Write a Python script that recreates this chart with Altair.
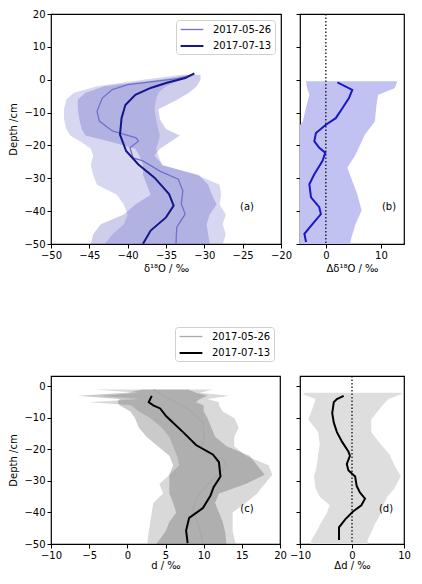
import altair as alt
import pandas as pd

FONT = "DejaVu Sans"
series = ["2017-05-26", "2017-07-13"]
panel_labels = ["(a)", "(b)", "(c)", "(d)"]

# ---------------- panel (a): d18O profiles ----------------
a_line526_depth = [1.5, 0.3, -0.8, -1.5, -3.0, -5.6, -9.6, -12.6, -15.6, -17.7, -18.7, -20.7,
                   -23.8, -24.7, -27.8, -30.3, -33.8, -37.8, -40.9, -44.9, -49.9]
a_line526_val = [-31.6, -33.5, -37.5, -40.0, -42.0, -43.3, -44.0, -43.7, -42.0, -38.9, -38.6, -39.7,
                 -39.3, -38.0, -35.8, -33.4, -32.8, -33.0, -32.5, -33.6, -33.7]
a_line713_depth = [1.9, 0.5, -1.0, -2.5, -4.6, -7.7, -11.7, -16.7, -21.7, -25.8, -29.8, -34.8,
                   -38.3, -41.9, -45.9, -49.9]
a_line713_val = [-31.3, -32.5, -35.0, -37.0, -39.0, -40.3, -40.8, -41.0, -40.2, -38.6, -36.5, -34.6,
                 -34.0, -35.0, -37.0, -38.0]

a_band_depth = [1.5, 0, -2, -4, -6, -9, -12, -15, -17, -19, -21, -23, -26, -29, -32, -35, -38,
                -41, -44, -47, -50]
a_band526_lo = [-33, -38, -44, -47, -48, -48.3, -48.3, -48, -47.5, -46, -44.8, -44.5, -44.8, -44.5,
                -44, -41.4, -40.5, -40, -40.5, -42, -43]
a_band526_hi = [-31, -33, -35, -36, -36.3, -36.5, -36.3, -36, -35.8, -36, -36.3, -36, -35.5, -31,
                -28, -27.8, -28, -27.2, -27.6, -27.2, -27.6]
a_band713_lo = [-31.5, -36, -43, -45.5, -46.5, -46.5, -46.3, -46, -45.5, -42, -39, -38.5, -38, -38,
                -37.5, -37, -39, -40.5, -43.5, -44.5, -44.8]
a_band713_hi = [-30.5, -30.5, -31, -32, -33.5, -36, -35.8, -35, -33.2, -34.5, -35.8, -36.5, -35.4,
                -30.7, -29.5, -29, -28.4, -29.3, -29.7, -29.5, -29.3]

# ---------------- panel (b): delta d18O ----------------
b_line_depth = [-0.8, -3.1, -5.6, -8.7, -11.7, -13.7, -16.2, -18.7, -20.7, -22.2, -24.7, -28.8,
                -31.8, -35.8, -38.8, -40.9, -43.9, -46.9, -49.4]
b_line_val = [2.1, 4.8, 4.2, 3.0, 1.8, 0.0, -1.8, -2.1, -1.2, -0.1, -0.6, -2.1, -3.0, -2.7, -1.2,
              -0.9, -2.4, -3.9, -3.6]
b_band_depth = [-0.5, -2.6, -4.6, -7.7, -12.7, -16.7, -22.8, -26.8, -30.8, -34.8, -39.8, -43.9,
                -48.9, -50]
b_band_lo = [-3.6, -3.4, -3.0, -3.5, -4.2, -6, -6, -6, -6, -6, -6, -6, -6, -6]
b_band_hi = [13, 12.5, 9.5, 9.2, 8.9, 7.1, 5.4, 3.9, 4.8, 5.7, 6.5, 5.4, 4.5, 4.5]

# ---------------- panel (c): d-excess profiles ----------------
c_line526_depth = [-1, -4, -7.5, -11.5, -15.6, -19.6, -21.5, -23, -25, -27.6, -31.6, -35.6, -39.7,
                   -44.7, -49.7]
c_line526_val = [3.4, 5.5, 8.2, 9.9, 10.1, 9.7, 10.5, 12.5, 13.0, 12.0, 10.3, 9.0, 8.6, 9.4, 9.9]
c_line713_depth = [-3, -4, -5, -6, -7, -9.5, -14.5, -18.6, -21.6, -24, -28.6, -32, -34.6, -38.6,
                   -41.7, -45.7, -49.7]
c_line713_val = [3.2, 3.0, 2.8, 3.4, 4.3, 5.1, 7.3, 9.0, 11.2, 12.0, 12.2, 11.3, 10.9, 9.9, 8.1,
                 7.7, 7.9]
c_band_depth = [-1, -2, -3, -4, -5, -6, -8, -10, -13, -16, -19, -22, -25, -28, -31, -34, -37, -40,
                -43, -46, -50]
c_band526_lo = [-4.4, 1.5, -3.5, 1.5, -5, 0.5, 1.5, 3, 4.5, 5.5, 6, 6.5, 6.8, 5.5, 4.2, 4.7, 3.4,
                3.2, 3, 2.8, 2.6]
c_band526_hi = [11.2, 9.5, 13.4, 10.5, 12, 12, 12.5, 14, 14.6, 14, 14, 15.5, 18.5, 19, 18, 17,
                15.5, 13.8, 13.8, 13.8, 14.2]
c_band713_lo = [2, 0, -6.5, -1, -1.3, -1, 0.4, 1, 1.5, 2.5, 4, 5.5, 6, 5.5, 5.5, 5.5, 6, 6.4, 5.5,
                5, 3.8]
c_band713_hi = [8, 9, 10.5, 9.5, 9, 10, 10, 10.5, 11, 11.5, 13, 16, 17, 18, 15.5, 12, 11.5, 12,
                12.5, 12.8, 13]

# ---------------- panel (d): delta d-excess ----------------
d_line_depth = [-3, -4, -5, -8.5, -11.5, -14.5, -17.6, -20.6, -22, -24.6, -26.6, -28.6, -31.6,
                -33.6, -35.6, -37.7, -39.7, -42.2, -44.7, -48.7]
d_line_val = [-1.6, -2.9, -3.5, -3.8, -3.5, -2.9, -1.9, -0.7, -0.4, -1.0, -0.7, 0.6, 0.9, 1.5,
              2.5, 1.8, 0.2, -1.3, -2.5, -2.5]
d_band_depth = [-2, -2.5, -4, -6.5, -10.5, -14.5, -18.5, -21.5, -25.5, -28.5, -32.5, -35, -37.7,
                -40, -42, -44, -46, -48.7, -50]
d_band_lo = [-9, -9.5, -7, -7.5, -8.4, -6.5, -6.2, -6.5, -6.8, -7.3, -7, -6.2, -4.3, -4.8, -5.5,
             -6.2, -6.8, -7.8, -8]
d_band_hi = [9.5, 9.5, 7, 5.6, 3.7, 3.7, 5.6, 7.2, 8.3, 9.4, 8.1, 6.8, 6, 5.6, 5, 4.3, 3.8, 3, 3]


def line_df(pairs):
    rows = []
    for name, depths, vals in pairs:
        for i, (dd, vv) in enumerate(zip(depths, vals)):
            rows.append({"series": name, "depth": dd, "val": vv, "idx": i})
    return pd.DataFrame(rows)


def band_df(depths, lo, hi):
    return pd.DataFrame({"depth": depths, "lo": lo, "hi": hi})


def X(field, domain, values, title, tpad=3):
    return alt.X(field, type="quantitative",
                 scale=alt.Scale(domain=domain, nice=False, zero=False),
                 axis=alt.Axis(values=values, title=title, titlePadding=tpad))


def Y(domain, values, title, labels=True):
    return alt.Y("depth", type="quantitative",
                 scale=alt.Scale(domain=domain, nice=False, zero=False),
                 axis=alt.Axis(values=values, title=title, labels=labels, titlePadding=5))


def legend(lx, ly):
    return alt.Legend(title=None, orient="none", legendX=lx, legendY=ly,
                      symbolType="M-2,0H2", symbolSize=130, symbolStrokeWidth=2,
                      labelFont=FONT, labelFontSize=10, labelLimit=200,
                      strokeColor="#d0d0d0", fillColor="white", padding=3, cornerRadius=3,
                      rowPadding=4, labelOffset=14, symbolOffset=6)


def label_layer(txt, px, py):
    return alt.Chart(pd.DataFrame({"t": [txt]})).mark_text(
        font=FONT, fontSize=10, color="black").encode(
        text="t:N", x=alt.value(px), y=alt.value(py))


# ---------- panel a ----------
ya = Y([-50, 20], list(range(-50, 21, 10)), "Depth /cm")
xa_dom = [-50, -20]
xa_vals = list(range(-50, -19, 5))
xa_title = "δ¹⁸O / ‰"
a_b1 = alt.Chart(band_df(a_band_depth, a_band526_lo, a_band526_hi)).mark_area(
    orient="horizontal", color="#8c8cd8", opacity=0.35).encode(
    y=ya, x=X("lo", xa_dom, xa_vals, xa_title), x2="hi")
a_b2 = alt.Chart(band_df(a_band_depth, a_band713_lo, a_band713_hi)).mark_area(
    orient="horizontal", color="#5c5cc0", opacity=0.3).encode(
    y=ya, x=X("lo", xa_dom, xa_vals, xa_title), x2="hi")
a_ln = alt.Chart(line_df([(series[0], a_line526_depth, a_line526_val),
                          (series[1], a_line713_depth, a_line713_val)])).mark_line().encode(
    y=ya, x=X("val", xa_dom, xa_vals, xa_title),
    color=alt.Color("series:N", scale=alt.Scale(domain=series, range=["#7070cc", "#15158a"]),
                    legend=legend(125, 6)),
    strokeWidth=alt.StrokeWidth("series:N", scale=alt.Scale(domain=series, range=[1.3, 2.0]),
                                legend=None),
    order="idx:Q")
panel_a = alt.layer(a_b1, a_b2, a_ln, label_layer(panel_labels[0], 196, 193)).properties(
    width=230, height=230)

# ---------- panel b ----------
yb = Y([-50, 20], list(range(-50, 21, 10)), None, labels=False)
xb_dom = [-4.7, 14.2]
xb_title = "Δδ¹⁸O / ‰"
b_band = alt.Chart(band_df(b_band_depth, b_band_lo, b_band_hi)).mark_area(
    orient="horizontal", color="#c2c2f2", opacity=1, clip=True).encode(
    y=yb, x=X("lo", xb_dom, [0, 10], xb_title), x2="hi")
b_rule = alt.Chart(pd.DataFrame({"z": [0]})).mark_rule(
    color="black", strokeDash=[1.5, 2], strokeWidth=1.2).encode(
    x=X("z", xb_dom, [0, 10], xb_title))
b_ln = alt.Chart(line_df([("d", b_line_depth, b_line_val)])).mark_line(
    color="#1818c8", strokeWidth=2, clip=True).encode(
    y=yb, x=X("val", xb_dom, [0, 10], xb_title), order="idx:Q")
panel_b = alt.layer(b_band, b_rule, b_ln, label_layer(panel_labels[1], 89, 193)).properties(
    width=104, height=230)

# ---------- panel c ----------
yc = Y([-50, 3.3], list(range(-50, 1, 10)), "Depth /cm")
xc_dom = [-10, 20]
xc_vals = list(range(-10, 21, 5))
xc_title = "d / ‰"
c_b1 = alt.Chart(band_df(c_band_depth, c_band526_lo, c_band526_hi)).mark_area(
    orient="horizontal", color="#a0a0a0", opacity=0.4).encode(
    y=yc, x=X("lo", xc_dom, xc_vals, xc_title, 0), x2="hi")
c_b2 = alt.Chart(band_df(c_band_depth, c_band713_lo, c_band713_hi)).mark_area(
    orient="horizontal", color="#505050", opacity=0.3).encode(
    y=yc, x=X("lo", xc_dom, xc_vals, xc_title, 0), x2="hi")
c_ln = alt.Chart(line_df([(series[0], c_line526_depth, c_line526_val),
                          (series[1], c_line713_depth, c_line713_val)])).mark_line().encode(
    y=yc, x=X("val", xc_dom, xc_vals, xc_title, 0),
    color=alt.Color("series:N", scale=alt.Scale(domain=series, range=["#a8a8a8", "#000000"]),
                    legend=legend(124, -49)),
    strokeWidth=alt.StrokeWidth("series:N", scale=alt.Scale(domain=series, range=[1.3, 2.0]),
                                legend=None),
    order="idx:Q")
panel_c = alt.layer(c_b1, c_b2, c_ln, label_layer(panel_labels[2], 196, 133)).properties(
    width=229, height=168)

# ---------- panel d ----------
yd = Y([-50, 3.3], list(range(-50, 1, 10)), None, labels=False)
xd_dom = [-10, 10]
xd_title = "Δd / ‰"
d_band = alt.Chart(band_df(d_band_depth, d_band_lo, d_band_hi)).mark_area(
    orient="horizontal", color="#dedede", opacity=1, clip=True).encode(
    y=yd, x=X("lo", xd_dom, [-10, 0, 10], xd_title, 0), x2="hi")
d_rule = alt.Chart(pd.DataFrame({"z": [0]})).mark_rule(
    color="black", strokeDash=[1.5, 2], strokeWidth=1.2).encode(
    x=X("z", xd_dom, [-10, 0, 10], xd_title, 0))
d_ln = alt.Chart(line_df([("d", d_line_depth, d_line_val)])).mark_line(
    color="black", strokeWidth=2).encode(
    y=yd, x=X("val", xd_dom, [-10, 0, 10], xd_title, 0), order="idx:Q")
panel_d = alt.layer(d_band, d_rule, d_ln, label_layer(panel_labels[3], 86, 133)).properties(
    width=104, height=168)

chart = alt.concat(panel_a, panel_b, panel_c, panel_d, columns=2, bounds="flush",
                   spacing=alt.RowColnumber(row=132, column=19)).resolve_scale(
    color="independent", strokeWidth="independent", x="independent", y="independent"
).configure_axis(
    labelFont=FONT, titleFont=FONT, labelFontSize=10, titleFontSize=10,
    labelColor="black", titleColor="black", tickColor="black", tickSize=4,
    domain=False, grid=False, titleFontWeight="normal", labelPadding=2, labelFlush=False
).configure_view(stroke="black", strokeWidth=1.2).properties(
    padding={"left": 0, "top": 0, "right": 0, "bottom": 0})

chart.save("out.html", embed_options={"renderer": "svg", "actions": False})
